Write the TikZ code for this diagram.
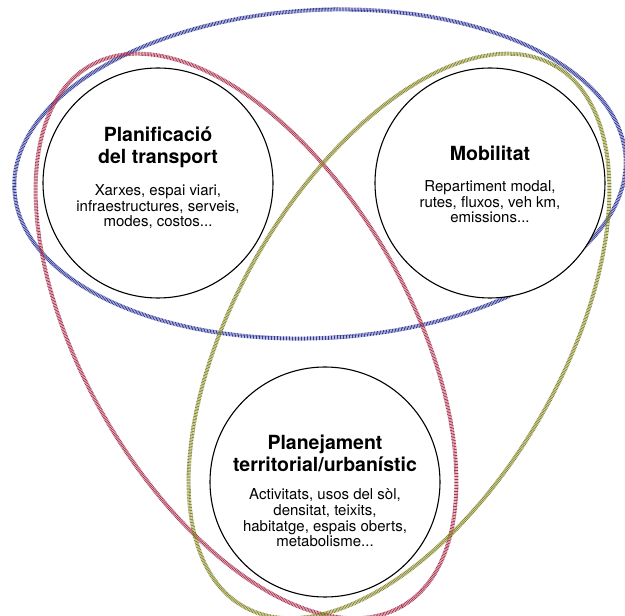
\documentclass[tikz,border=0pt]{standalone}
\usepackage{fontspec}
\setmainfont{TeX Gyre Heros}
\definecolor{ovalblue}{RGB}{48,56,150}
\definecolor{ovalred}{RGB}{170,52,80}
\definecolor{ovalgreen}{RGB}{132,134,40}
\begin{document}
\begin{tikzpicture}[x=1pt, y=1pt,
      oval/.style={line width=4pt, dash pattern=on 0.8pt off 0.7pt},
      ring/.style={circle, draw, fill=white, line width=1.1pt, minimum size=230pt, inner sep=0pt},
      head/.style={align=center, font=\fontsize{19.5}{22}\selectfont\bfseries},
      body/.style={align=center, font=\fontsize{15}{15.6}\selectfont}]
      \useasboundingbox (0,0) rectangle (625,616);
      % overlapping fields
      \draw[oval, ovalblue] (320,442) ellipse[x radius=306, y radius=164, rotate=3];
      \draw[oval, ovalred] (246,280) ellipse[x radius=312, y radius=163, rotate=-60];
      \draw[oval, ovalgreen] (399,280) ellipse[x radius=312, y radius=163, rotate=60];
      % the three circles
      \node[ring] (transp) at (158,433) {};
      \node[ring] (mobil) at (490,433) {};
      \node[ring] (planej) at (325,134) {};
      \node[head] (transp-h) at ([yshift=36]transp.center) {Planificació\\del transport};
      \node[body] (transp-b) at ([yshift=-24]transp.center) {Xarxes, espai viari,\\infraestructures, serveis,\\modes, costos...};
      \node[head] (mobil-h) at ([yshift=30]mobil.center) {Mobilitat};
      \node[body] (mobil-b) at ([yshift=-19]mobil.center) {Repartiment modal,\\rutes, fluxos, veh km,\\emissions...};
      \node[head] (planej-h) at ([yshift=29]planej.center) {Planejament\\territorial/urbanístic};
      \node[body] (planej-b) at ([yshift=-36]planej.center) {Activitats, usos del sòl,\\densitat, teixits,\\habitatge, espais oberts,\\metabolisme...};
\end{tikzpicture}
\end{document}
